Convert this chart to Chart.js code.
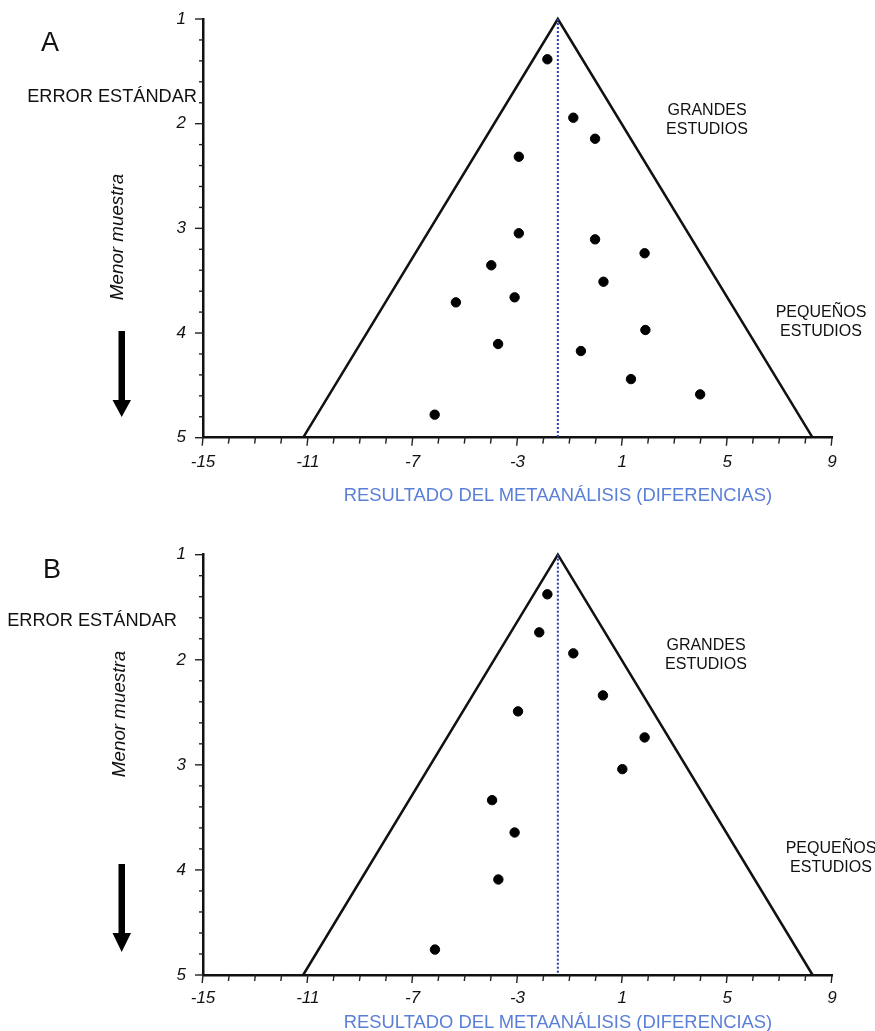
<!DOCTYPE html>
<html>
<head>
<meta charset="utf-8">
<script src="https://cdn.jsdelivr.net/npm/chart.js@4.4.1/dist/chart.umd.min.js"></script>
<style>
  body { margin: 0; background: #fff; }
  #page { position: relative; width: 875px; height: 1031px; overflow: hidden; font-family: "Liberation Sans", Arial, Helvetica, sans-serif; color: #111; }
  canvas { position: absolute; left: 0; }
  #chartA { top: 0; }
  #chartB { top: 520px; }
  .t { position: absolute; white-space: nowrap; line-height: 1; }
  .c { transform: translate(-50%, -50%); text-align: center; }
  .r { transform: translate(-100%, -50%); }
  .rot { transform: translate(-50%, -50%) rotate(-90deg); font-style: italic; font-size: 18.8px; }
  .lbl { font-size: 16px; line-height: 18.5px; }
  .ttl { font-size: 18.4px; color: #5a7fd8; }
  .pan { font-size: 27px; }
  .se { font-size: 18.2px; }
  svg { position: absolute; left: 0; top: 0; }
</style>
</head>
<body>
<div id="page">
  <canvas id="chartA" width="875" height="520"></canvas>
  <canvas id="chartB" width="875" height="511"></canvas>

  <div class="t c pan" style="left:50px;top:42px">A</div>
  <div class="t r se" style="left:197px;top:96px">ERROR ESTÁNDAR</div>
  <div class="t rot" style="left:117px;top:237px">Menor muestra</div>
  <div class="t c lbl" style="left:707px;top:119px">GRANDES<br>ESTUDIOS</div>
  <div class="t c lbl" style="left:821px;top:321px">PEQUEÑOS<br>ESTUDIOS</div>
  <div class="t c ttl" style="left:558px;top:495px">RESULTADO DEL METAANÁLISIS (DIFERENCIAS)</div>

  <div class="t c pan" style="left:52px;top:569px">B</div>
  <div class="t r se" style="left:177px;top:620px">ERROR ESTÁNDAR</div>
  <div class="t rot" style="left:119px;top:714px">Menor muestra</div>
  <div class="t c lbl" style="left:706px;top:654px">GRANDES<br>ESTUDIOS</div>
  <div class="t c lbl" style="left:831px;top:857px">PEQUEÑOS<br>ESTUDIOS</div>
  <div class="t c ttl" style="left:558px;top:1022px">RESULTADO DEL METAANÁLISIS (DIFERENCIAS)</div>

  <svg width="875" height="1031">
    <polygon points="118.5,331 125,331 125,400 131,400 121.7,417 112.5,400 118.5,400" fill="#000"/>
    <polygon points="118.5,864 125,864 125,933 131,933 121.7,952 112.5,933 118.5,933" fill="#000"/>
  </svg>
</div>

<script>
// axis labels
const xTickLabels = [-15, -11, -7, -3, 1, 5, 9];
const yTickLabels = [1, 2, 3, 4, 5];

// funnel (triangle) and pooled estimate
const funnelX = [-11.18, -1.46, 8.26];
const funnelY = [5, 1, 5];
const pooledX = [-1.46, -1.46];
const pooledY = [1, 5];

// panel A studies
const studiesAX = [-1.86, -0.87, -0.04, -2.95, -2.95, -0.04, 1.85, -4.0, 0.28, -3.11, -5.35, 1.88, -3.74, -0.58, 1.33, 3.97, -6.16];
const studiesAY = [1.385, 1.943, 2.144, 2.316, 3.047, 3.105, 3.238, 3.353, 3.51, 3.659, 3.707, 3.971, 4.105, 4.172, 4.44, 4.586, 4.78];

// panel B studies
const studiesBX = [-1.86, -2.17, -0.87, 0.26, -2.98, 1.85, 1.0, -3.97, -3.11, -3.73, -6.15];
const studiesBY = [1.377, 1.739, 1.939, 2.339, 2.491, 2.739, 3.041, 3.336, 3.644, 4.091, 4.758];

function pts(xs, ys) {
    return xs.map((x, i) => ({ x: x, y: ys[i] }));
}

// short tick marks drawn on the library's own ticks
const tickMarks = {
    id: 'tickMarks',
    afterDraw(chart) {
        const ctx = chart.ctx;
        const xs = chart.scales.x, ys = chart.scales.y;
        ctx.save();
        ctx.strokeStyle = '#222';
        ctx.lineWidth = 1.4;
        xs.ticks.forEach(t => {
            const px = xs.getPixelForValue(t.value);
            const len = t.label !== '' ? 8 : 6;
            ctx.beginPath();
            ctx.moveTo(px, xs.top);
            ctx.lineTo(px - 0.8, xs.top + len);
            ctx.stroke();
        });
        ys.ticks.forEach(t => {
            const py = ys.getPixelForValue(t.value);
            const len = t.label !== '' ? 8 : 4;
            ctx.beginPath();
            ctx.moveTo(ys.right - len, py);
            ctx.lineTo(ys.right, py);
            ctx.stroke();
        });
        ctx.restore();
    }
};

function makePanel(id, sx, sy, topPad, xHeight, labelPad) {
    const tickFont = { family: '"Liberation Sans", Arial, sans-serif', size: 17, style: 'italic' };
    return new Chart(document.getElementById(id).getContext('2d'), {
        type: 'scatter',
        data: {
            datasets: [{
                data: pts(sx, sy),
                backgroundColor: '#000',
                borderColor: '#000',
                pointRadius: 4.7,
                pointHoverRadius: 4.7
            }, {
                data: pts(pooledX, pooledY),
                showLine: true,
                borderColor: '#2d3da6',
                borderWidth: 2,
                borderDash: [2, 2],
                pointRadius: 0,
                clip: false
            }, {
                data: pts(funnelX, funnelY),
                showLine: true,
                borderColor: '#111',
                borderWidth: 2.5,
                pointRadius: 0,
                tension: 0,
                clip: false
            }]
        },
        options: {
            responsive: false,
            animation: false,
            devicePixelRatio: 1,
            layout: { padding: { top: topPad, right: 43, left: 0, bottom: 0 } },
            plugins: { legend: { display: false }, tooltip: { enabled: false } },
            scales: {
                x: {
                    type: 'linear',
                    min: -15,
                    max: 9,
                    grid: { display: false },
                    border: { display: true, color: '#111', width: 2.5 },
                    ticks: {
                        stepSize: 1,
                        autoSkip: false,
                        maxRotation: 0,
                        padding: labelPad,
                        color: '#111',
                        font: tickFont,
                        callback: v => xTickLabels.includes(v) ? String(v) : ''
                    },
                    afterFit: s => { s.height = xHeight; s.paddingLeft = 0; s.paddingRight = 0; }
                },
                y: {
                    type: 'linear',
                    reverse: true,
                    min: 1,
                    max: 5,
                    grid: { display: false },
                    border: { display: true, color: '#111', width: 2.5 },
                    ticks: {
                        stepSize: 0.2,
                        autoSkip: false,
                        padding: 9,
                        color: '#111',
                        font: tickFont,
                        callback: v => {
                            const r = Math.round(v);
                            return Math.abs(v - r) < 1e-6 && yTickLabels.includes(r) ? String(r) : '';
                        }
                    },
                    afterFit: s => { s.width = 203; s.paddingTop = 0; s.paddingBottom = 0; }
                }
            }
        },
        plugins: [tickMarks]
    });
}

makePanel('chartA', studiesAX, studiesAY, 19, 82.3, 6);
makePanel('chartB', studiesBX, studiesBY, 34.7, 56, 5);
</script>
</body>
</html>
